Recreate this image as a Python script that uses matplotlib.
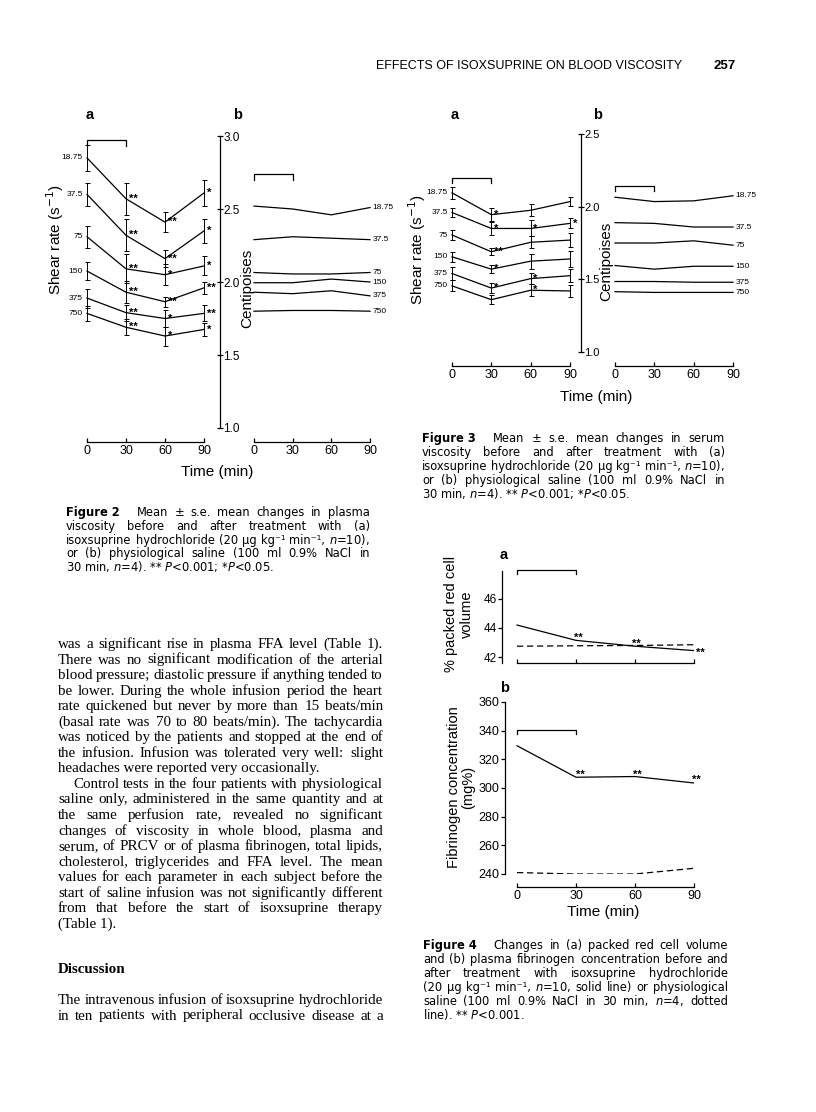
import matplotlib
matplotlib.use("Agg")
import matplotlib.pyplot as plt

# ---- data ----
times = [0, 30, 60, 90]
infusion = [0, 30]
shear_labels = ["18.75", "37.5", "75", "150", "375", "750"]

# Figure 2: plasma viscosity (centipoises)
plasma_iso = [
    [2.85, 2.57, 2.41, 2.61],
    [2.60, 2.32, 2.16, 2.35],
    [2.31, 2.09, 2.05, 2.11],
    [2.075, 1.93, 1.865, 1.96],
    [1.89, 1.79, 1.75, 1.785],
    [1.785, 1.69, 1.63, 1.675],
]
plasma_iso_se = [
    [0.09, 0.11, 0.07, 0.09],
    [0.08, 0.11, 0.06, 0.08],
    [0.075, 0.10, 0.07, 0.065],
    [0.06, 0.075, 0.035, 0.04],
    [0.065, 0.055, 0.06, 0.055],
    [0.05, 0.055, 0.065, 0.045],
]
plasma_iso_sig = [
    ["", "**", "**", "*"],
    ["", "**", "**", "*"],
    ["", "**", "*", "*"],
    ["", "**", "**", "**"],
    ["", "**", "*", "**"],
    ["", "**", "*", "*"],
]
plasma_saline = [
    [2.52, 2.50, 2.46, 2.51],
    [2.29, 2.31, 2.30, 2.29],
    [2.065, 2.055, 2.055, 2.065],
    [1.995, 1.995, 2.02, 2.00],
    [1.93, 1.92, 1.94, 1.905],
    [1.80, 1.805, 1.805, 1.80],
]

# Figure 3: serum viscosity (centipoises)
serum_iso = [
    [2.095, 1.945, 1.975, 2.035],
    [1.96, 1.85, 1.85, 1.885],
    [1.805, 1.69, 1.755, 1.77],
    [1.655, 1.57, 1.625, 1.64],
    [1.54, 1.44, 1.505, 1.525],
    [1.455, 1.36, 1.425, 1.42],
]
serum_iso_se = [
    [0.042, 0.046, 0.042, 0.03],
    [0.034, 0.042, 0.055, 0.034],
    [0.034, 0.023, 0.04, 0.046],
    [0.034, 0.029, 0.052, 0.052],
    [0.048, 0.037, 0.039, 0.046],
    [0.037, 0.033, 0.042, 0.04],
]
serum_iso_sig = [
    ["", "*", "", ""],
    ["", "*", "*", "*"],
    ["", "**", "", ""],
    ["", "*", "", ""],
    ["", "*", "*", ""],
    ["", "", "*", ""],
]
serum_saline = [
    [2.065, 2.035, 2.04, 2.075],
    [1.89, 1.885, 1.86, 1.86],
    [1.75, 1.75, 1.765, 1.735],
    [1.595, 1.57, 1.59, 1.59],
    [1.485, 1.485, 1.48, 1.48],
    [1.415, 1.41, 1.41, 1.41],
]

# Figure 4: packed red cell volume (%) and fibrinogen (mg%)
prcv_iso = [44.2, 43.15, 42.75, 42.45]
prcv_saline = [42.75, 42.78, 42.8, 42.85]
prcv_sig = ["", "**", "**", "**"]
fib_iso = [329.5, 307.5, 308, 303.5]
fib_saline = [241, 240, 240, 244]
fib_sig = ["", "**", "**", "**"]

# ---- page text ----
head = "EFFECTS OF ISOXSUPRINE ON BLOOD VISCOSITY"
page_no = "257"

cap2 = ["Mean \u00b1 s.e. mean changes in plasma",
        "viscosity before and after treatment with (a)",
        "isoxsuprine hydrochloride (20 \u00b5g kg\u207b\u00b9 min\u207b\u00b9, $n$=10),",
        "or (b) physiological saline (100 ml 0.9% NaCl in",
        "30 min, $n$=4). ** $P$<0.001; *$P$<0.05."]
cap3 = ["Mean \u00b1 s.e. mean changes in serum",
        "viscosity before and after treatment with (a)",
        "isoxsuprine hydrochloride (20 \u00b5g kg\u207b\u00b9 min\u207b\u00b9, $n$=10),",
        "or (b) physiological saline (100 ml 0.9% NaCl in",
        "30 min, $n$=4). ** $P$<0.001; *$P$<0.05."]
cap4 = ["Changes in (a) packed red cell volume",
        "and (b) plasma fibrinogen concentration before and",
        "after treatment with isoxsuprine hydrochloride",
        "(20 \u00b5g kg\u207b\u00b9 min\u207b\u00b9, $n$=10, solid line) or physiological",
        "saline (100 ml 0.9% NaCl in 30 min, $n$=4, dotted",
        "line). ** $P$<0.001."]

body = ["was a significant rise in plasma FFA level (Table 1).",
        "There was no significant modification of the arterial",
        "blood pressure; diastolic pressure if anything tended to",
        "be lower. During the whole infusion period the heart",
        "rate quickened but never by more than 15 beats/min",
        "(basal rate was 70 to 80 beats/min). The tachycardia",
        "was noticed by the patients and stopped at the end of",
        "the infusion. Infusion was tolerated very well: slight",
        "headaches were reported very occasionally.",
        "Control tests in the four patients with physiological",
        "saline only, administered in the same quantity and at",
        "the same perfusion rate, revealed no significant",
        "changes of viscosity in whole blood, plasma and",
        "serum, of PRCV or of plasma fibrinogen, total lipids,",
        "cholesterol, triglycerides and FFA level. The mean",
        "values for each parameter in each subject before the",
        "start of saline infusion was not significantly different",
        "from that before the start of isoxsuprine therapy",
        "(Table 1)."]
body_last = {8, 18}
body_indent = {9}
discussion = ["The intravenous infusion of isoxsuprine hydrochloride",
              "in ten patients with peripheral occlusive disease at a"]

# ---- page setup ----
W, H = 816, 1112
plt.rcParams["font.family"] = ["Liberation Sans", "DejaVu Sans"]
plt.rcParams["mathtext.fontset"] = "dejavusans"
fig = plt.figure(figsize=(W / 100, H / 100), dpi=100)
renderer = fig.canvas.get_renderer()
LW = 0.9


def px_axes(left, top, right, bottom):
    ax = fig.add_axes([left / W, 1 - bottom / H, (right - left) / W, (bottom - top) / H])
    ax.patch.set_visible(False)
    for s in ax.spines.values():
        s.set_linewidth(LW)
    return ax


def ftext(x, y, s, **kw):
    return fig.text(x / W, 1 - y / H, s, **kw)


def line_text(s, x0, x1, y, size, family, justify=True, weight="normal"):
    base = y + 0.33 * size * 100 / 72
    if not justify:
        ftext(x0, base, s, fontsize=size, family=family, weight=weight, va="baseline")
        return
    words = s.split()
    objs = [ftext(x0, base, w, fontsize=size, family=family, weight=weight, va="baseline")
            for w in words]
    widths = [o.get_window_extent(renderer).width for o in objs]
    gap = (x1 - x0 - sum(widths)) / max(len(words) - 1, 1)
    x = x0
    for o, w in zip(objs, widths):
        o.set_x(x / W)
        x += w + gap


def caption(label, lines, x0, x1, ys, size=8.3):
    base = ys[0] + 0.33 * size * 100 / 72
    b = ftext(x0, base, label, fontsize=size, family="DejaVu Sans", weight="bold", va="baseline")
    bw = b.get_window_extent(renderer).width
    line_text(lines[0], x0 + bw + 17, x1, ys[0], size, "DejaVu Sans")
    for i, (s, y) in enumerate(zip(lines[1:], ys[1:])):
        last = i == len(lines) - 2
        line_text(s, x0, x1, y, size, "DejaVu Sans", justify=not last)


def time_axis(ax, labels=True, outward=10):
    ax.spines["bottom"].set_position(("outward", outward))
    ax.spines["bottom"].set_bounds(0, 90)
    ax.set_xticks(times)
    ax.tick_params(axis="x", direction="in", length=3, width=LW, labelsize=9, pad=2,
                   labelbottom=labels)


def cp_axis(ax, ticks, size):
    ax.spines["left"].set_visible(False)
    ax.spines["top"].set_visible(False)
    ax.yaxis.tick_right()
    ax.set_yticks(ticks)
    ax.set_yticklabels([f"{t:.1f}" for t in ticks])
    ax.tick_params(axis="y", direction="inout", length=4, width=LW, labelsize=size, pad=0.3)


def bracket(ax, level, depth):
    ax.plot([infusion[0], infusion[0], infusion[1], infusion[1]],
            [level - depth, level, level, level - depth], color="k", lw=LW, clip_on=False)


def iso_panel(ax, means, ses, sigs):
    for lab, m, e, sg in zip(shear_labels, means, ses, sigs):
        ax.errorbar(times, m, yerr=e, color="k", lw=LW, elinewidth=0.7,
                    capsize=1.8, capthick=0.7, clip_on=False)
        ax.annotate(lab, (times[0], m[0]), xytext=(-3, 0), textcoords="offset points",
                    ha="right", va="center", fontsize=6)
        for t, v, s in zip(times, m, sg):
            if s:
                ax.annotate(s, (t, v), xytext=(2, 0), textcoords="offset points",
                            ha="left", va="center", fontsize=8, fontweight="bold")


def saline_panel(ax, means):
    for lab, m in zip(shear_labels, means):
        ax.plot(times, m, color="k", lw=LW, clip_on=False)
        ax.annotate(lab, (times[-1], m[-1]), xytext=(2, 0), textcoords="offset points",
                    ha="left", va="center", fontsize=6)
    for s in ["left", "right", "top"]:
        ax.spines[s].set_visible(False)
    ax.set_yticks([])


# ---- running head ----
ftext(376, 66, head, fontsize=9, va="center")
ftext(713, 66, page_no, fontsize=9.5, weight="bold", va="center")

# ---- Figure 2 ----
ax = px_axes(87, 136, 220, 428)
ax.set_xlim(0, 90 * (220 - 87) / (204 - 87))
ax.set_ylim(1.0, 3.0)
cp_axis(ax, [1.0, 1.5, 2.0, 2.5, 3.0], 8.5)
time_axis(ax)
iso_panel(ax, plasma_iso, plasma_iso_se, plasma_iso_sig)
bracket(ax, 2.97, 0.04)

ax = px_axes(254, 136, 370, 428)
ax.set_xlim(0, 90)
ax.set_ylim(1.0, 3.0)
time_axis(ax)
saline_panel(ax, plasma_saline)
bracket(ax, 2.74, 0.04)

ftext(90, 115, "a", fontsize=10.5, weight="bold", ha="center", va="center")
ftext(238, 115, "b", fontsize=10.5, weight="bold", ha="center", va="center")
ftext(55, 240, "Shear rate (s$^{-1}$)", fontsize=11, rotation=90, ha="center", va="center")
ftext(247, 288, "Centipoises", fontsize=11, rotation=90, ha="center", va="center")
ftext(217, 472, "Time (min)", fontsize=11, ha="center", va="center")
caption("Figure 2", cap2, 66, 370, [512, 526, 540, 553.5, 567])

# ---- Figure 3 ----
ax = px_axes(452, 134, 581, 352)
ax.set_xlim(0, 90 * (581 - 452) / (570 - 452))
ax.set_ylim(1.0, 2.5)
cp_axis(ax, [1.0, 1.5, 2.0, 2.5], 8)
time_axis(ax)
iso_panel(ax, serum_iso, serum_iso_se, serum_iso_sig)
bracket(ax, 2.197, 0.035)

ax = px_axes(615, 134, 733, 352)
ax.set_xlim(0, 90)
ax.set_ylim(1.0, 2.5)
time_axis(ax)
saline_panel(ax, serum_saline)
bracket(ax, 2.144, 0.035)

ftext(455, 115, "a", fontsize=10.5, weight="bold", ha="center", va="center")
ftext(598, 115, "b", fontsize=10.5, weight="bold", ha="center", va="center")
ftext(417, 250, "Shear rate (s$^{-1}$)", fontsize=11, rotation=90, ha="center", va="center")
ftext(606, 261, "Centipoises", fontsize=11, rotation=90, ha="center", va="center")
ftext(596, 397, "Time (min)", fontsize=11, ha="center", va="center")
caption("Figure 3", cap3, 422, 725, [437.7, 451.7, 466, 480, 494.3])

# ---- Figure 4 ----
star_off_a = [(0, 0), (1.5, 1.5), (1, 1.5), (4.5, -1.5)]
star_off_b = [(0, 0), (3.5, 2), (1.5, 1.5), (1.5, 2)]

ax = px_axes(502, 571, 694, 663)
ax.set_xlim(-90 * (517 - 502) / (694 - 517), 90)
ax.set_ylim(41.6, 47.9)
ax.spines["top"].set_visible(False)
ax.spines["right"].set_visible(False)
ax.spines["bottom"].set_bounds(0, 90)
ax.set_xticks(times)
ax.tick_params(axis="x", direction="in", length=3, width=LW, labelbottom=False)
ax.set_yticks([42, 44, 46])
ax.tick_params(axis="y", direction="out", length=3, width=LW, labelsize=8.5, pad=1)
ax.plot(times, prcv_iso, color="k", lw=LW)
ax.plot(times, prcv_saline, color="k", lw=LW, ls="--", dashes=(5, 3))
for t, v, s, o in zip(times, prcv_iso, prcv_sig, star_off_a):
    if s:
        ax.annotate(s, (t, v), xytext=o, textcoords="offset points",
                    ha="center", va="center", fontsize=8, fontweight="bold")
bracket(ax, 47.98, 0.3)

ax = px_axes(505, 702, 694, 874)
ax.set_xlim(-90 * (517 - 505) / (694 - 517), 90)
ax.set_ylim(240, 360)
ax.spines["top"].set_visible(False)
ax.spines["right"].set_visible(False)
time_axis(ax, outward=9.6)
ax.set_yticks(range(240, 361, 20))
ax.tick_params(axis="y", direction="out", length=3, width=LW, labelsize=9, pad=1)
ax.plot(times, fib_iso, color="k", lw=LW)
ax.plot(times, fib_saline, color="k", lw=LW, ls="--", dashes=(5, 3))
for t, v, s, o in zip(times, fib_iso, fib_sig, star_off_b):
    if s:
        ax.annotate(s, (t, v), xytext=o, textcoords="offset points",
                    ha="center", va="center", fontsize=8, fontweight="bold")
bracket(ax, 340.5, 2.5)

ftext(504, 555, "a", fontsize=10.5, weight="bold", ha="center", va="center")
ftext(505, 688, "b", fontsize=10.5, weight="bold", ha="center", va="center")
ftext(459, 614, "% packed red cell\nvolume", fontsize=10.5, rotation=90,
      ha="center", va="center", multialignment="center", linespacing=1.1)
ftext(461, 787, "Fibrinogen concentration\n(mg%)", fontsize=10.5, rotation=90,
      ha="center", va="center", multialignment="center", linespacing=1.0)
ftext(603, 912, "Time (min)", fontsize=11, ha="center", va="center")
caption("Figure 4", cap4, 423, 728, [945, 959, 973, 987, 1001, 1015])

# ---- body text ----
serif = "Liberation Serif"
for i, s in enumerate(body):
    y = 643 + i * 15.55
    x0 = 58 + (15 if i in body_indent else 0)
    line_text(s, x0, 383, y, 10.8, serif, justify=i not in body_last)
line_text("Discussion", 58, 383, 968, 10.8, serif, justify=False, weight="bold")
for i, s in enumerate(discussion):
    line_text(s, 58, 383, 999 + i * 15.55, 10.8, serif)

fig.savefig("out.png", dpi=100)
